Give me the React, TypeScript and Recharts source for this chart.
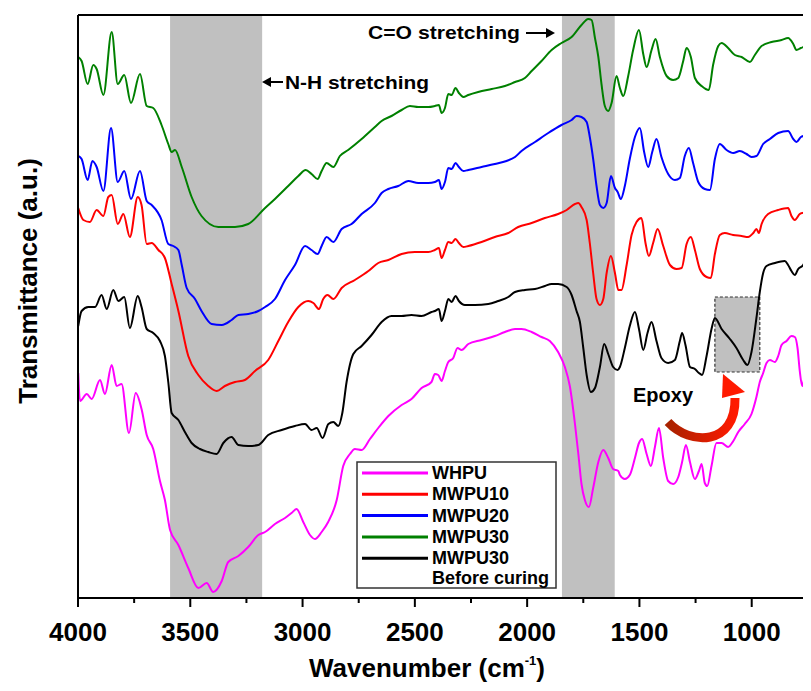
import { LineChart, Line, XAxis, YAxis, ReferenceArea, ReferenceLine } from 'recharts'

// wavenumber (cm-1), transmittance (a.u., stacked offsets)
const whpu: [number, number][] = [
  [3999, 225], [3991, 197], [3961, 204], [3939, 199], [3902, 218], [3880, 204], [3850, 233], [3828, 212], [3806, 214],
  [3773, 165], [3743, 205], [3717, 189], [3694, 163], [3665, 149], [3635, 117], [3613, 98], [3590, 68], [3553, 53],
  [3509, 30], [3464, 10], [3427, 15], [3398, 6], [3360, 17], [3331, 36], [3286, 42], [3242, 51], [3197, 63], [3167, 66],
  [3123, 74], [3078, 80], [3049, 85], [3027, 89], [2997, 76], [2967, 63], [2945, 59], [2915, 66], [2886, 76], [2848, 98],
  [2819, 132], [2789, 144], [2767, 149], [2737, 148], [2700, 159], [2663, 170], [2618, 182], [2559, 193], [2515, 199],
  [2470, 210], [2426, 216], [2411, 224], [2396, 223], [2381, 217], [2366, 227], [2351, 236], [2329, 240], [2310, 250],
  [2292, 248], [2262, 254], [2203, 258], [2144, 262], [2099, 266], [2054, 269], [2025, 269], [1980, 266], [1936, 261],
  [1899, 257], [1862, 246], [1832, 231], [1810, 212], [1787, 174], [1772, 144], [1758, 114], [1743, 98], [1725, 91],
  [1706, 110], [1683, 136], [1661, 148], [1639, 140], [1617, 129], [1594, 127], [1587, 123], [1565, 119], [1543, 123],
  [1520, 140], [1502, 155], [1488, 159], [1468, 144], [1449, 132], [1431, 151], [1413, 170], [1394, 140], [1372, 117],
  [1350, 114], [1327, 121], [1310, 136], [1293, 153], [1275, 136], [1253, 119], [1235, 127], [1223, 134], [1209, 115],
  [1198, 112], [1179, 132], [1157, 155], [1134, 155], [1105, 151], [1082, 157], [1060, 166], [1031, 174], [1001, 184],
  [979, 201], [964, 216], [949, 225], [934, 235], [919, 238], [897, 236], [882, 242], [867, 253], [845, 257], [823, 262],
  [808, 261], [796, 250], [786, 227], [775, 212], [760, 227], [749, 235], [737, 238],
]

const mwpu10: [number, number][] = [
  [3999, 390], [3976, 378], [3947, 376], [3917, 388], [3887, 382], [3865, 401], [3850, 403], [3823, 374], [3798, 384],
  [3769, 361], [3734, 401], [3717, 393], [3694, 354], [3672, 355], [3642, 348], [3613, 340], [3583, 314], [3553, 287],
  [3509, 242], [3464, 223], [3420, 212], [3383, 207], [3346, 212], [3301, 216], [3257, 218], [3212, 227], [3153, 238],
  [3108, 257], [3064, 276], [3019, 291], [2975, 297], [2952, 295], [2927, 289], [2908, 299], [2889, 303], [2863, 299],
  [2826, 310], [2767, 318], [2707, 327], [2663, 335], [2618, 338], [2559, 344], [2500, 346], [2440, 346], [2411, 348],
  [2393, 350], [2381, 340], [2366, 348], [2351, 356], [2336, 355], [2319, 359], [2304, 355], [2284, 351], [2262, 352],
  [2203, 356], [2144, 361], [2084, 365], [2040, 371], [1980, 375], [1921, 380], [1862, 384], [1824, 388], [1787, 394],
  [1772, 395], [1758, 391], [1735, 378], [1721, 355], [1706, 325], [1691, 299], [1676, 293], [1661, 299], [1646, 325],
  [1627, 342], [1609, 325], [1594, 308], [1580, 308], [1557, 333], [1535, 363], [1513, 376], [1491, 380], [1473, 355],
  [1458, 342], [1439, 355], [1419, 369], [1394, 352], [1364, 333], [1335, 329], [1312, 330], [1290, 354], [1271, 361],
  [1253, 348], [1231, 329], [1201, 321], [1182, 320], [1164, 344], [1142, 363], [1120, 365], [1083, 363], [1045, 362],
  [1016, 361], [993, 365], [979, 369], [968, 365], [956, 374], [927, 384], [882, 388], [838, 390], [823, 382], [808, 378],
  [786, 384], [764, 386], [737, 399],
]

const mwpu20: [number, number][] = [
  [3999, 442], [3984, 439], [3957, 418], [3936, 437], [3917, 431], [3887, 407], [3853, 470], [3823, 416], [3794, 427],
  [3764, 399], [3724, 427], [3694, 397], [3672, 393], [3628, 378], [3598, 354], [3576, 352], [3553, 348], [3538, 333],
  [3516, 310], [3479, 299], [3450, 287], [3405, 274], [3360, 273], [3316, 278], [3286, 283], [3242, 284], [3197, 287],
  [3167, 291], [3123, 299], [3078, 318], [3034, 333], [2989, 352], [2960, 348], [2933, 344], [2915, 352], [2893, 361],
  [2863, 356], [2826, 369], [2782, 374], [2737, 384], [2678, 395], [2648, 405], [2618, 409], [2574, 412], [2529, 417],
  [2485, 415], [2440, 415], [2411, 416], [2393, 418], [2381, 409], [2366, 416], [2351, 430], [2336, 429], [2319, 435],
  [2304, 431], [2284, 427], [2262, 428], [2203, 431], [2144, 434], [2092, 437], [2054, 441], [2025, 447], [1965, 456],
  [1906, 465], [1847, 473], [1802, 478], [1780, 482], [1758, 481], [1735, 476], [1721, 461], [1706, 439], [1691, 412],
  [1676, 393], [1661, 390], [1646, 395], [1627, 422], [1609, 410], [1597, 406], [1583, 399], [1565, 412], [1543, 439],
  [1520, 461], [1498, 470], [1479, 446], [1461, 431], [1443, 446], [1424, 459], [1402, 441], [1372, 424], [1342, 418],
  [1320, 420], [1298, 442], [1280, 450], [1261, 435], [1238, 416], [1209, 409], [1186, 408], [1164, 439], [1142, 454],
  [1112, 448], [1082, 445], [1053, 447], [1023, 444], [1001, 441], [979, 442], [949, 454], [919, 459], [882, 465],
  [838, 467], [815, 459], [801, 456], [781, 461], [756, 463], [737, 471],
]

const mwpu30: [number, number][] = [
  [3999, 541], [3984, 537], [3957, 514], [3932, 533], [3917, 529], [3887, 503], [3850, 566], [3823, 514], [3794, 523],
  [3764, 495], [3724, 524], [3694, 492], [3665, 490], [3628, 473], [3598, 454], [3583, 446], [3568, 448], [3538, 431],
  [3494, 401], [3450, 382], [3375, 371], [3301, 371], [3242, 374], [3167, 390], [3123, 399], [3064, 412], [3019, 422],
  [2986, 428], [2960, 424], [2933, 419], [2915, 427], [2893, 435], [2863, 431], [2834, 442], [2797, 448], [2737, 459],
  [2678, 471], [2648, 477], [2604, 482], [2559, 488], [2522, 492], [2485, 491], [2440, 491], [2411, 492], [2393, 493],
  [2381, 485], [2366, 490], [2351, 504], [2336, 503], [2319, 510], [2304, 505], [2284, 501], [2262, 503], [2218, 506],
  [2158, 509], [2099, 512], [2054, 516], [2010, 520], [1980, 527], [1936, 537], [1891, 548], [1847, 555], [1802, 561],
  [1758, 573], [1728, 579], [1713, 578], [1698, 560], [1683, 541], [1669, 514], [1654, 492], [1639, 487], [1624, 495],
  [1602, 522], [1587, 510], [1572, 502], [1550, 522], [1528, 548], [1502, 568], [1483, 544], [1468, 531], [1446, 548],
  [1428, 559], [1409, 541], [1379, 522], [1350, 518], [1327, 520], [1305, 537], [1290, 550], [1271, 541], [1253, 520],
  [1223, 512], [1191, 508], [1172, 533], [1149, 552], [1134, 555], [1105, 550], [1075, 543], [1045, 541], [1008, 536],
  [986, 543], [956, 552], [912, 556], [867, 558], [838, 560], [815, 554], [801, 548], [781, 550], [756, 553], [737, 563],
]

const mwpu30Before: [number, number][] = [
  [3999, 272], [3984, 287], [3954, 291], [3924, 291], [3895, 303], [3872, 289], [3843, 308], [3820, 297], [3794, 301],
  [3769, 270], [3734, 302], [3717, 291], [3694, 269], [3665, 265], [3635, 257], [3613, 242], [3598, 216], [3583, 185],
  [3553, 178], [3524, 166], [3494, 155], [3457, 149], [3420, 146], [3383, 144], [3353, 155], [3316, 161], [3286, 153],
  [3242, 152], [3197, 153], [3153, 163], [3093, 168], [3034, 172], [2989, 174], [2960, 168], [2937, 170], [2911, 160],
  [2885, 174], [2863, 176], [2841, 172], [2823, 185], [2804, 216], [2774, 244], [2737, 252], [2693, 263], [2648, 276],
  [2604, 282], [2559, 282], [2515, 283], [2470, 282], [2426, 286], [2411, 287], [2393, 289], [2381, 277], [2366, 287],
  [2351, 299], [2336, 296], [2319, 302], [2304, 297], [2277, 293], [2233, 293], [2173, 294], [2129, 297], [2084, 301],
  [2054, 306], [2010, 308], [1965, 309], [1921, 312], [1891, 314], [1862, 314], [1824, 311], [1802, 303], [1780, 287],
  [1765, 276], [1750, 250], [1735, 223], [1716, 206], [1698, 210], [1676, 231], [1657, 254], [1639, 244], [1617, 231],
  [1597, 228], [1587, 231], [1565, 250], [1543, 272], [1520, 286], [1502, 269], [1483, 248], [1464, 265], [1446, 276],
  [1424, 257], [1402, 240], [1372, 235], [1342, 238], [1320, 257], [1310, 265], [1295, 253], [1275, 231], [1253, 229],
  [1235, 225], [1221, 223], [1201, 242], [1179, 269], [1164, 280], [1134, 269], [1097, 259], [1068, 250], [1038, 238],
  [1019, 233], [1001, 246], [979, 280], [964, 306], [949, 325], [934, 332], [897, 335], [853, 337], [838, 333],
  [823, 327], [808, 323], [793, 329], [771, 333], [749, 344], [737, 346],
]

const xTicks = [4000, 3750, 3500, 3250, 3000, 2750, 2500, 2250, 2000, 1750, 1500, 1250, 1000, 750]
const nhBand = [3590, 3180]
const coBand = [1845, 1610]
const epoxyBox = { x1: 1164, x2: 964, y1: 226, y2: 301 }

const series = [
  { name: 'WHPU', color: '#ff00ff', data: whpu },
  { name: 'MWPU10', color: '#ff0000', data: mwpu10 },
  { name: 'MWPU20', color: '#0000ff', data: mwpu20 },
  { name: 'MWPU30', color: '#008000', data: mwpu30 },
  { name: 'MWPU30', color: '#000000', data: mwpu30Before },
]

const F = "Arial, 'Liberation Sans', Helvetica, sans-serif"

function XTick(props: any) {
  const { x, y, payload } = props
  const major = payload.value % 500 === 0
  return (
    <g>
      <line x1={x} x2={x} y1={y} y2={y + (major ? 9 : 5)} stroke="#000" strokeWidth={2} />
      {major && (
        <text x={x} y={y + 43} textAnchor="middle" fontSize={26} fontWeight="bold" fontFamily={F} fill="#000">
          {payload.value}
        </text>
      )}
    </g>
  )
}

export default function App() {
  return (
    <div style={{ position: 'relative', width: 803, height: 683 }}>
      <LineChart width={803} height={683} margin={{ top: 7, right: 0, left: 0, bottom: 0 }}>
        <ReferenceArea x1={nhBand[0]} x2={nhBand[1]} fill="#c0c0c0" fillOpacity={1} stroke="none" />
        <ReferenceArea x1={coBand[0]} x2={coBand[1]} fill="#c0c0c0" fillOpacity={1} stroke="none" />
        <ReferenceArea {...epoxyBox} fill="#c0c0c0" fillOpacity={1} stroke="#333" strokeWidth={1.2} strokeDasharray="3 2" />
        <XAxis
          type="number"
          dataKey="wn"
          domain={[736, 4000]}
          reversed
          ticks={xTicks}
          interval={0}
          allowDataOverflow
          height={93}
          tickSize={0}
          tickMargin={0}
          tickLine={false}
          tick={<XTick />}
          axisLine={{ stroke: '#000', strokeWidth: 2 }}
        />
        <YAxis
          type="number"
          domain={[0, 583]}
          width={70}
          tick={false}
          tickLine={false}
          axisLine={{ stroke: '#000', strokeWidth: 2 }}
        />
        <ReferenceLine y={583} stroke="#000" strokeWidth={2} />
        {series.map((s, i) => (
          <Line
            key={i}
            data={s.data.map(([wn, t]) => ({ wn, t }))}
            dataKey="t"
            type="monotone"
            stroke={s.color}
            strokeWidth={2}
            dot={false}
            activeDot={false}
            isAnimationActive={false}
          />
        ))}
      </LineChart>
      <svg
        width={811}
        height={691}
        style={{ position: 'absolute', left: -8, top: -8, pointerEvents: 'none' }}
        fontFamily={F}
      >
        <defs>
          <linearGradient id="arr" x1="0" y1="0" x2="1" y2="0">
            <stop offset="0%" stopColor="#a82200" />
            <stop offset="100%" stopColor="#ff1a00" />
          </linearGradient>
        </defs>
        <text x={28} y={281} transform="rotate(-90 28 281)" textAnchor="middle" dominantBaseline="central" fontSize={26} fontWeight="bold">
          Transmittance (a.u.)
        </text>
        <text x={427} y={677} textAnchor="middle" fontSize={26} fontWeight="bold">
          Wavenumber (cm
          <tspan fontSize={13} dy={-12}>-1</tspan>
          <tspan dy={12}>)</tspan>
        </text>
        {/* annotations */}
        <text x={368} y={39} fontSize={19} fontWeight="bold" textLength={152} lengthAdjust="spacingAndGlyphs">C=O stretching</text>
        <line x1={526} x2={550} y1={33} y2={33} stroke="#000" strokeWidth={2} />
        <polygon points="555,33 546,28 546,38" fill="#000" />
        <text x={285} y={89} fontSize={19} fontWeight="bold" textLength={144} lengthAdjust="spacingAndGlyphs">N-H stretching</text>
        <line x1={268} x2={283} y1={82} y2={82} stroke="#000" strokeWidth={2} />
        <polygon points="262,82 271,77 271,87" fill="#000" />
        <text x={633} y={402} fontSize={20} fontWeight="bold">Epoxy</text>
        <path d="M668,422 C690,446 736,446 735,398" stroke="url(#arr)" strokeWidth={9} fill="none" />
        <polygon points="723,374 745,392 722,398" fill="#ff1a00" />
        {/* legend */}
        <rect x={357} y={462} width={199} height={126} fill="#fff" stroke="#333" strokeWidth={1.5} />
        {series.map((s, i) => (
          <g key={i}>
            <line x1={362} x2={428} y1={473 + i * 21.3} y2={473 + i * 21.3} stroke={s.color} strokeWidth={3} />
            <text x={432} y={479 + i * 21.3} fontSize={18} fontWeight="bold">{s.name}</text>
          </g>
        ))}
        <text x={432} y={584} fontSize={18} fontWeight="bold">Before curing</text>
      </svg>
    </div>
  )
}
